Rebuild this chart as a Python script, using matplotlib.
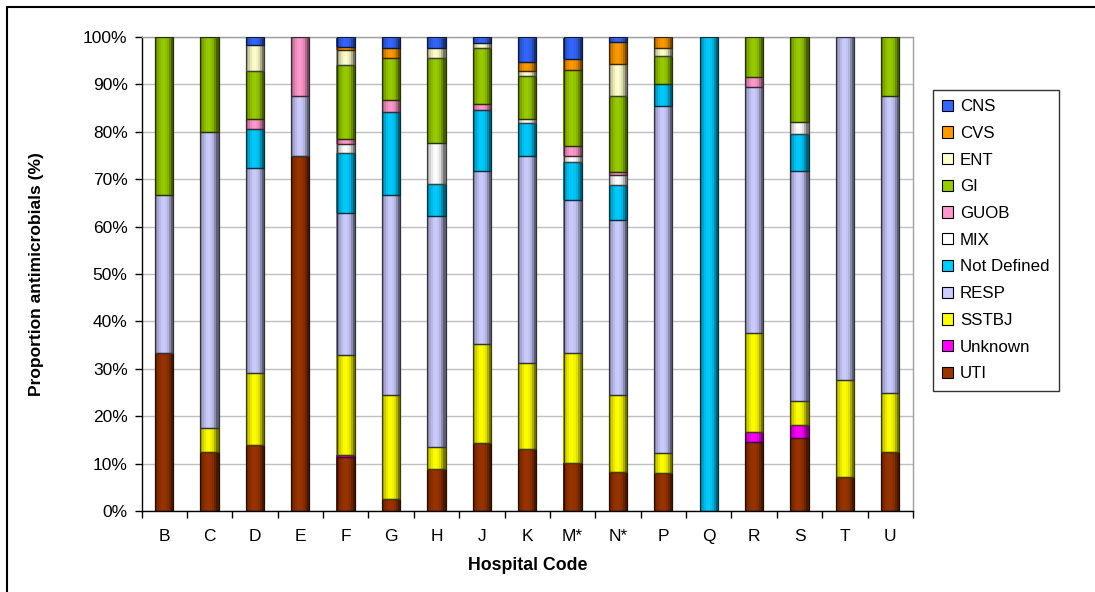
import numpy as np
import matplotlib
matplotlib.use("Agg")
import matplotlib.pyplot as plt
from matplotlib.colors import to_rgb
from matplotlib.patches import Patch, Rectangle

plt.rcParams['font.family'] = ['Liberation Sans', 'DejaVu Sans']

hospitals = ["B", "C", "D", "E", "F", "G", "H", "J", "K", "M*", "N*", "P", "Q", "R", "S", "T", "U"]

# Share of antimicrobials (%) per indication, stacked bottom to top
uti      = [33.3, 12.5, 13.9, 75.0, 11.3, 2.5, 8.8, 14.3, 13.0, 10.2, 8.3, 8.1, 0, 14.6, 15.3, 7.1, 12.5]
unknown  = [0, 0, 0, 0, 0.6, 0, 0, 0, 0, 0, 0, 0, 0, 2.0, 2.8, 0, 0]
sstbj    = [0, 5.0, 15.2, 0, 21.0, 22.0, 4.6, 20.9, 18.3, 23.2, 16.2, 4.1, 0, 20.9, 5.1, 20.5, 12.5]
resp     = [33.4, 62.5, 43.2, 12.5, 30.0, 42.2, 48.8, 36.6, 43.6, 32.2, 36.9, 73.2, 0, 52.0, 48.5, 72.4, 62.5]
not_def  = [0, 0, 8.2, 0, 12.7, 17.5, 6.8, 12.8, 6.9, 8.0, 7.4, 4.7, 100.0, 0, 7.8, 0, 0]
mix      = [0, 0, 0, 0, 1.8, 0, 8.7, 0, 0.8, 1.2, 2.1, 0, 0, 0, 2.5, 0, 0]
guob     = [0, 0, 2.3, 12.5, 1.0, 2.5, 0, 1.3, 0, 2.1, 0.7, 0, 0, 2.1, 0, 0, 0]
gi       = [33.3, 20.0, 10.1, 0, 15.7, 8.8, 17.8, 11.7, 9.2, 16.1, 16.0, 5.9, 0, 8.4, 18.0, 0, 12.5]
ent      = [0, 0, 5.4, 0, 3.2, 0, 2.1, 1.1, 1.1, 0, 6.8, 1.6, 0, 0, 0, 0, 0]
cvs      = [0, 0, 0, 0, 0.5, 2.1, 0, 0, 1.9, 2.3, 4.5, 2.4, 0, 0, 0, 0, 0]
cns      = [0, 0, 1.7, 0, 2.2, 2.4, 2.4, 1.3, 5.2, 4.7, 1.1, 0, 0, 0, 0, 0, 0]

series_names = ["UTI", "Unknown", "SSTBJ", "RESP", "Not Defined", "MIX", "GUOB", "GI", "ENT", "CVS", "CNS"]
series_values = [uti, unknown, sstbj, resp, not_def, mix, guob, gi, ent, cvs, cns]
series_colors = ["#993300", "#FF00FF", "#FFFF00", "#CCCCFF", "#00CCFF", "#FFFFFF",
                 "#FF99CC", "#99CC00", "#FFFFCC", "#FF9900", "#3366FF"]

fig = plt.figure(figsize=(10.95, 5.92), dpi=100)
ax = fig.add_axes([141.5 / 1095, 1 - 511 / 592, (913 - 141.5) / 1095, (511 - 37) / 592])

x = np.arange(len(hospitals))
width = 0.4

# horizontal brightness profile giving the bars a cylindrical look
n_slices = 9
slice_t = (np.arange(n_slices) + 0.5) / n_slices
slice_factor = np.interp(slice_t, [0, 0.1, 0.35, 0.55, 0.75, 0.9, 1.0],
                         [0.55, 0.75, 0.97, 1.0, 0.85, 0.55, 0.35])
slice_w = width / n_slices
slice_offsets = -width / 2 + (np.arange(n_slices) + 0.5) * slice_w

bottom = np.zeros(len(hospitals))
handles = {}
for name, vals, col in zip(series_names, series_values, series_colors):
    vals = np.asarray(vals, dtype=float)
    rgb = np.array(to_rgb(col))
    for off, f in zip(slice_offsets, slice_factor):
        ax.bar(x + off, vals, slice_w * 1.15, bottom=bottom, color=tuple(rgb * f),
               linewidth=0, zorder=2)
    edge_rgb = tuple(rgb * 0.25)
    edges = [edge_rgb if v > 0 else 'none' for v in vals]
    ax.bar(x, vals, width, bottom=bottom, facecolor='none', edgecolor=edges,
           linewidth=0.9, zorder=3)
    handles[name] = Patch(facecolor=col, edgecolor='black', linewidth=0.8)
    bottom += vals

ax.set_xlim(-0.5, len(hospitals) - 0.5)
ax.set_ylim(0, 100)

ax.set_yticks(np.arange(0, 101, 10))
ax.set_yticklabels([f"{v}%" for v in range(0, 101, 10)])
ax.yaxis.grid(True, color='#C0C0C0', linewidth=1)
ax.set_axisbelow(True)

ax.set_xticks(x)
ax.set_xticklabels(hospitals)
ax.set_xticks(np.arange(-0.5, len(hospitals)), minor=True)
ax.tick_params(axis='x', which='major', length=0, pad=13, labelsize=12.5)
ax.tick_params(axis='x', which='minor', length=5, width=1, color='black')
ax.tick_params(axis='y', length=5, width=1, pad=5, labelsize=12.5)

for side in ['left', 'bottom']:
    ax.spines[side].set_color('black')
    ax.spines[side].set_linewidth(1)
for side in ['right', 'top']:
    ax.spines[side].set_color('#A0A0A0')
    ax.spines[side].set_linewidth(1)

ax.set_xlabel("Hospital Code", fontsize=12.8, fontweight='bold')
ax.set_ylabel("Proportion antimicrobials (%)", fontsize=12.5, fontweight='bold')
ax.xaxis.set_label_coords(0.5, -0.097)
ax.yaxis.set_label_coords(-0.1264, 0.5)

legend_order = series_names[::-1]
leg = fig.legend([handles[n] for n in legend_order], legend_order,
                 loc='upper left', bbox_to_anchor=(933 / 1095, 1 - 90 / 592),
                 bbox_transform=fig.transFigure, fontsize=12.2, frameon=True,
                 fancybox=False, borderpad=0.55, labelspacing=0.69,
                 handlelength=0.65, handleheight=0.65, handletextpad=0.4,
                 borderaxespad=0)
leg.get_frame().set_edgecolor('black')
leg.get_frame().set_linewidth(1)

# chart-area border
fig.add_artist(Rectangle((7 / 1095, -0.1), 1.2, 1 - 7 / 592 + 0.1,
                         transform=fig.transFigure, fill=False,
                         edgecolor='black', linewidth=1.5, clip_on=False))

fig.savefig("out.png", dpi=100)
